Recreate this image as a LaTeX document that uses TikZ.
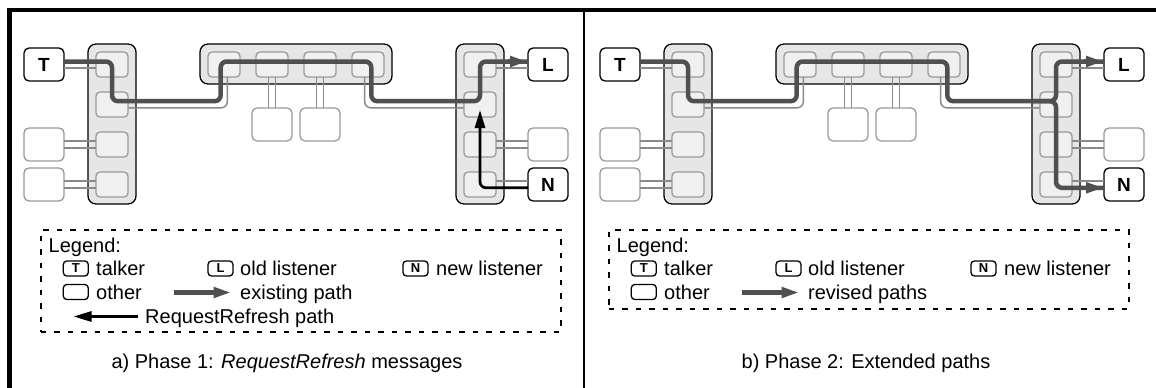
\documentclass[tikz,border=0pt]{standalone}
\usepackage{fontspec}
\setmainfont{Liberation Sans}
\usetikzlibrary{arrows.meta,calc}
\definecolor{swfill}{HTML}{E6E6E6}
\definecolor{infill}{HTML}{F0F0F0}
\definecolor{boxgray}{HTML}{9A9A9A}
\definecolor{linkgray}{HTML}{8A8A8A}
\definecolor{pathgray}{HTML}{505050}
\tikzset{
  sw/.style={draw=black, line width=1.3pt, fill=swfill, rounded corners=8pt, inner sep=0pt, outer sep=0pt},
  inbox/.style={draw=boxgray, line width=1.3pt, fill=infill, rounded corners=4pt, minimum width=32pt, minimum height=25pt, inner sep=0pt, outer sep=0pt},
  otherbox/.style={draw=boxgray, line width=1.3pt, fill=white, rounded corners=5pt, minimum width=40pt, minimum height=33pt, inner sep=0pt, outer sep=0pt},
  host/.style={draw=black, line width=1.3pt, fill=white, rounded corners=5pt, minimum width=40pt, minimum height=33pt, inner sep=0pt, outer sep=0pt, font=\fontsize{19}{22}\selectfont\bfseries},
  lnk/.style={draw=linkgray, line width=1.5pt},
  dpath/.style={draw=pathgray, line width=4.5pt, rounded corners=6pt},
  rpath/.style={draw=black, line width=2.7pt, rounded corners=6pt},
  tip/.style={-{Triangle[length=18pt,width=10pt]}},
  icon/.style={draw=black, line width=1.3pt, rounded corners=3.5pt, minimum width=25pt, minimum height=15pt, inner sep=0pt, outer sep=0pt, font=\fontsize{13}{13}\selectfont\bfseries},
  legbox/.style={draw=black, line width=1.6pt, dash pattern=on 5.5pt off 8pt, inner sep=0pt, anchor=north west},
  txt/.style={anchor=base west, inner sep=0pt},
}
\newcommand\hlink[2]{%
  \draw[lnk] ($(#1.east)+(0,-3.3)$) -- ($(#2.west)+(0,-3.3)$);
  \draw[lnk] ($(#1.east)+(0,3.3)$) -- ($(#2.west)+(0,3.3)$);}
\newcommand\vlink[2]{%
  \draw[lnk] ($(#1.south)+(-3.3,0)$) -- ($(#2.north)+(-3.3,0)$);
  \draw[lnk] ($(#1.south)+(3.3,0)$) -- ($(#2.north)+(3.3,0)$);}
\newcommand\drawpanel{%
  \node[sw, minimum width=48pt, minimum height=160pt] (LSw) at (112,124) {};
  \node[sw, minimum width=192pt, minimum height=40pt] (TSw) at (296,64) {};
  \node[sw, minimum width=48pt, minimum height=160pt] (RSw) at (480,124) {};
  \foreach \i/\y in {1/64.5,2/104.5,3/144.5,4/184.5} {
    \node[inbox] (LS\i) at (112,\y) {};
    \node[inbox] (RS\i) at (480,\y) {};
  }
  \foreach \i/\x in {1/224,2/272,3/320,4/368} {
    \node[inbox] (TS\i) at (\x,64.5) {};
  }
  \node[host] (T) at (44,64.5) {T};
  \node[otherbox] (O1) at (44,144.5) {};
  \node[otherbox] (O2) at (44,184.5) {};
  \node[otherbox] (B1) at (272,124.5) {};
  \node[otherbox] (B2) at (320,124.5) {};
  \node[host] (L) at (548,64.5) {L};
  \node[otherbox] (O3) at (548,144.5) {};
  \node[host] (N) at (548,184.5) {N};
  \hlink{T}{LS1}
  \hlink{O1}{LS3}
  \hlink{O2}{LS4}
  \hlink{RS1}{L}
  \hlink{RS3}{O3}
  \hlink{RS4}{N}
  \vlink{TS2}{B1}
  \vlink{TS3}{B2}
  \draw[lnk, rounded corners=6pt] ($(LS2.east)+(0,3.3)$) -| ($(TS1.south)+(3.3,0)$);
  \draw[lnk, rounded corners=3pt] ($(LS2.east)+(0,-3.3)$) -| ($(TS1.south)+(-3.3,0)$);
  \draw[lnk, rounded corners=6pt] ($(TS4.south)+(-3.3,0)$) |- ($(RS2.west)+(0,3.3)$);
  \draw[lnk, rounded corners=3pt] ($(TS4.south)+(3.3,0)$) |- ($(RS2.west)+(0,-3.3)$);
  \draw[dpath] ($(T.east)+(0,-3)$) -- ($(LS1.center)+(0,-3)$) -- ($(LS2.center)+(0,-3.3)$)
     -- ($(LS2.center -| TS1.center)+(-3.3,-3.3)$) -- ($(TS1.center)+(-3.3,-3)$)
     -- ($(TS4.center)+(3.3,-3)$) -- ($(TS4.center |- RS2.center)+(3.3,-3.3)$)
     -- ($(RS2.center)+(0,-3.3)$) -- ($(RS1.center)+(0,-3)$) -- ($(L.west)+(0,-3)$);
  \path[draw=pathgray, line width=4.5pt, tip] ($(L.west)+(-20,-3)$) -- ($(L.west)+(0,-3)$);
}
\begin{document}
\begin{tikzpicture}[x=1pt,y=-1pt,font=\fontsize{20}{24}\selectfont]
\useasboundingbox (0,0) rectangle (1156,388);
\fill[white] (0,0) rectangle (1156,388);
% frame
\draw[line width=4.2pt] (9.5,388) -- (9.5,10.3) -- (1156,10.3);
\draw[line width=1.3pt] (584,12) -- (584,388);

% ---------- panel a ----------
\begin{scope}[name prefix=a-]
  \drawpanel
  \draw[rpath, tip] ($(N.west)+(0,3.3)$) -- ($(RS4.center)+(0,3.3)$) -- ($(RS2.center)+(0,5.5)$);
  % legend
  \node[legbox, minimum width=520pt, minimum height=102pt] (leg) at (40,229.3) {};
  \node[txt] (lt) at (48.5,252) {Legend:};
  \node[icon] (iT) at (75.8,268.5) {T};
  \node[txt] (tT) at (96,275.5) {talker};
  \node[icon] (iL) at (220.5,268.5) {L};
  \node[txt] (tL) at (240,275.5) {old listener};
  \node[icon] (iN) at (415.5,268.5) {N};
  \node[txt] (tN) at (436,275.5) {new listener};
  \node[icon] (iO) at (75.8,292) {};
  \node[txt] (tO) at (96,299) {other};
  \coordinate (e1) at (174,292.5);
  \node[inner sep=0pt, outer sep=0pt] (e2) at (232,292.5) {};
  \draw[draw=pathgray, line width=4.5pt, tip] (e1) -- (e2);
  \node[txt] (tE) at (240,299) {existing path};
  \coordinate (r1) at (138,316.5);
  \node[inner sep=0pt, outer sep=0pt] (r2) at (73,316.5) {};
  \draw[rpath, tip] (r1) -- (r2);
  \node[txt] (tR) at (145,323) {RequestRefresh path};
  \node[anchor=base, inner sep=0pt] (cap) at (287,368) {a) Phase 1: \textit{RequestRefresh} messages};
\end{scope}

% ---------- panel b ----------
\begin{scope}[name prefix=b-, xshift=576pt]
  \drawpanel
  \draw[dpath] ($(RS2.center)+(-24,-3.3)$) -- ($(RS2.center)+(0,-3.3)$) -- ($(RS4.center)+(0,3.3)$) -- ($(N.west)+(0,3.3)$);
  \path[draw=pathgray, line width=4.5pt, tip] ($(N.west)+(-20,3.3)$) -- ($(N.west)+(0,3.3)$);
  \node[anchor=base, inner sep=0pt] (cap) at (290,368) {b) Phase 2: Extended paths};
\end{scope}
\begin{scope}[name prefix=c-, xshift=568pt]
  \node[legbox, minimum width=520pt, minimum height=78.7pt] (leg) at (40,229.3) {};
  \node[txt] (lt) at (48.5,252) {Legend:};
  \node[icon] (iT) at (75.8,268.5) {T};
  \node[txt] (tT) at (96,275.5) {talker};
  \node[icon] (iL) at (220.5,268.5) {L};
  \node[txt] (tL) at (240,275.5) {old listener};
  \node[icon] (iN) at (415.5,268.5) {N};
  \node[txt] (tN) at (436,275.5) {new listener};
  \node[icon] (iO) at (75.8,292) {};
  \node[txt] (tO) at (96,299) {other};
  \coordinate (e1) at (174,292.5);
  \node[inner sep=0pt, outer sep=0pt] (e2) at (232,292.5) {};
  \draw[draw=pathgray, line width=4.5pt, tip] (e1) -- (e2);
  \node[txt] (tE) at (240,299) {revised paths};
\end{scope}
\end{tikzpicture}
\end{document}
